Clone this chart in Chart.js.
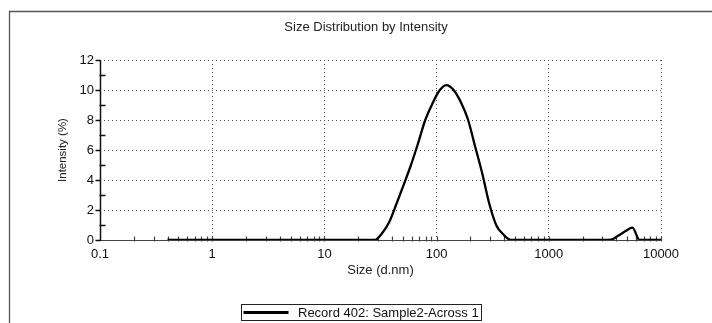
<!DOCTYPE html>
<html><head><meta charset="utf-8">
<style>html,body{margin:0;padding:0;background:#fff;}#wrap{width:712px;height:323px;position:relative;}</style>
<script src="https://cdn.jsdelivr.net/npm/chart.js@4.4.0/dist/chart.umd.min.js"></script>
</head><body><div id="wrap"><canvas id="c" width="712" height="323"></canvas></div>
<script>
const chartTitle = 'Size Distribution by Intensity';
const seriesLabel = 'Record 402: Sample2-Across 1';
const xAxisTitle = 'Size (d.nm)';
const yAxisTitle = 'Intensity (%)';
const sizes = [0.4, 0.4632, 0.5365, 0.6213, 0.7195, 0.8332, 0.9649, 1.117, 1.294, 1.499,
  1.736, 2.01, 2.328, 2.696, 3.122, 3.615, 4.187, 4.849, 5.615, 6.503,
  7.531, 8.721, 10.1, 11.7, 13.54, 15.69, 18.17, 21.04, 24.36, 28.21,
  32.67, 37.84, 43.82, 50.75, 58.77, 68.06, 78.82, 91.28, 105.7, 122.4,
  141.8, 164.2, 190.1, 220.2, 255.0, 295.3, 342.0, 396.1, 458.7, 531.2,
  615.1, 712.4, 825.0, 955.4, 1106, 1281, 1484, 1718, 1990, 2305,
  2669, 3091, 3580, 4145, 4801, 5560, 6439, 7456, 8635, 10000];
const intensity = [0, 0, 0, 0, 0, 0, 0, 0, 0, 0,
  0, 0, 0, 0, 0, 0, 0, 0, 0, 0,
  0, 0, 0, 0, 0, 0, 0, 0, 0, 0,
  0.45, 1.2, 2.4, 3.66, 4.95, 6.4, 7.95, 9.05, 9.95, 10.33,
  10.0, 9.2, 8.05, 6.25, 4.45, 2.4, 0.95, 0.35, 0, 0,
  0, 0, 0, 0, 0, 0, 0, 0, 0, 0,
  0, 0, 0.02, 0.28, 0.58, 0.82, 0, 0, 0, 0];
const xTickValues = [0.1, 1, 10, 100, 1000, 10000];
const xTickLabels = ['0.1', '1', '10', '100', '1000', '10000'];
const yTickValues = [0, 2, 4, 6, 8, 10, 12];
const yTickLabels = ['0', '2', '4', '6', '8', '10', '12'];

const FONT = '"Liberation Sans", Arial, Helvetica, sans-serif';
const points = sizes.map((s, i) => ({x: s, y: intensity[i]}));

const decor = {
  id: 'decor',
  beforeDraw(chart) {
    const ctx = chart.ctx;
    ctx.save();
    ctx.fillStyle = '#fff';
    ctx.fillRect(0, 0, chart.width, chart.height);
    ctx.strokeStyle = '#555';
    ctx.lineWidth = 1.3;
    ctx.beginPath();
    ctx.moveTo(9.5, 330); ctx.lineTo(9.5, 11.5); ctx.lineTo(720, 11.5);
    ctx.stroke();
    ctx.fillStyle = '#222';
    ctx.font = '13px ' + FONT;
    ctx.textAlign = 'center';
    ctx.textBaseline = 'middle';
    ctx.fillText(chartTitle, 366, 27.5);
    ctx.restore();
  },
  beforeDatasetsDraw(chart) {
    const ctx = chart.ctx, xs = chart.scales.x, ys = chart.scales.y;
    const x0 = Math.round(xs.getPixelForValue(0.1)) + 0.5;
    const y0 = Math.round(ys.getPixelForValue(0)) + 0.5;
    const x1 = xs.getPixelForValue(10000);
    const yTop = ys.getPixelForValue(12);
    ctx.save();
    ctx.strokeStyle = '#444'; ctx.lineWidth = 1.2;
    ctx.beginPath(); ctx.moveTo(x0, y0); ctx.lineTo(x1, y0); ctx.stroke();
    ctx.beginPath();
    for (let d = 0.1; d < 5000; d *= 10) {
      for (let k = 1; k <= 9; k++) {
        if (k === 1 && d === 0.1) continue;
        const p = Math.round(xs.getPixelForValue(k * d)) + 0.5;
        ctx.moveTo(p, y0 - 4); ctx.lineTo(p, y0 + 1);
      }
    }
    const pe = Math.round(xs.getPixelForValue(10000)) + 0.5;
    ctx.moveTo(pe, y0 - 4); ctx.lineTo(pe, y0 + 1);
    ctx.stroke();
    ctx.strokeStyle = '#111'; ctx.lineWidth = 1.5;
    ctx.beginPath(); ctx.moveTo(x0, yTop); ctx.lineTo(x0, y0 + 0.5); ctx.stroke();
    ctx.beginPath();
    for (let v = 0; v <= 12; v++) {
      const p = Math.round(ys.getPixelForValue(v)) + 0.5;
      if (v % 2 === 0) { ctx.moveTo(x0 - 5, p); ctx.lineTo(x0, p); }
      else { ctx.moveTo(x0 - 1, p); ctx.lineTo(x0 + 5, p); }
    }
    ctx.stroke();
    ctx.restore();
  },
  afterDraw(chart) {
    const ctx = chart.ctx;
    const ds = chart.data.datasets[0];
    ctx.save();
    ctx.strokeStyle = '#222'; ctx.lineWidth = 1;
    ctx.strokeRect(241.5, 304.5, 240, 16);
    ctx.strokeStyle = ds.borderColor; ctx.lineWidth = 3;
    ctx.beginPath(); ctx.moveTo(243.5, 312.5); ctx.lineTo(288.5, 312.5); ctx.stroke();
    ctx.fillStyle = '#111';
    ctx.font = '13px ' + FONT;
    ctx.textAlign = 'left'; ctx.textBaseline = 'middle';
    ctx.fillText(ds.label, 298, 313);
    ctx.restore();
  }
};

new Chart(document.getElementById('c'), {
  type: 'scatter',
  data: {
    datasets: [{
      label: seriesLabel,
      data: points,
      showLine: true,
      borderColor: '#000',
      backgroundColor: '#000',
      borderWidth: 2.3,
      pointRadius: 0,
      pointHoverRadius: 0,
      cubicInterpolationMode: 'monotone'
    }]
  },
  options: {
    responsive: false,
    animation: false,
    devicePixelRatio: 1,
    layout: {padding: {left: 0, right: 51, top: 60, bottom: 0}},
    plugins: {legend: {display: false}, title: {display: false}, tooltip: {enabled: false}},
    scales: {
      x: {
        type: 'logarithmic',
        position: 'bottom',
        min: 0.1, max: 10000,
        afterBuildTicks: (s) => { s.ticks = xTickValues.map(v => ({value: v})); },
        afterFit: (s) => { s.height = 83; },
        ticks: {
          autoSkip: false, maxRotation: 0, padding: 7,
          color: '#111', font: {family: FONT, size: 13},
          callback: (v) => { const i = xTickValues.indexOf(v); return i >= 0 ? xTickLabels[i] : ''; }
        },
        grid: {
          drawTicks: false,
          color: (c) => (c.tick && c.tick.value === 0.1) ? 'rgba(0,0,0,0)' : '#555',
          lineWidth: 1
        },
        border: {display: false, dash: [1, 3]},
        title: {display: true, text: xAxisTitle, color: '#222', font: {family: FONT, size: 13, lineHeight: 1}, padding: {top: 0, bottom: 45.8}}
      },
      y: {
        type: 'linear',
        min: 0, max: 12,
        afterBuildTicks: (s) => { s.ticks = yTickValues.map(v => ({value: v})); },
        afterFit: (s) => { s.width = 100; },
        ticks: {
          padding: 6, color: '#111', font: {family: FONT, size: 13},
          callback: (v) => { const i = yTickValues.indexOf(v); return i >= 0 ? yTickLabels[i] : ''; }
        },
        grid: {
          drawTicks: false,
          color: (c) => (c.tick && c.tick.value === 0) ? 'rgba(0,0,0,0)' : '#555',
          lineWidth: 1
        },
        border: {display: false, dash: [1, 3]},
        title: {display: true, text: yAxisTitle, color: '#222', font: {family: FONT, size: 11.5, lineHeight: 1}, padding: {top: 57, bottom: 0}}
      }
    }
  },
  plugins: [decor]
});
</script></body></html>
